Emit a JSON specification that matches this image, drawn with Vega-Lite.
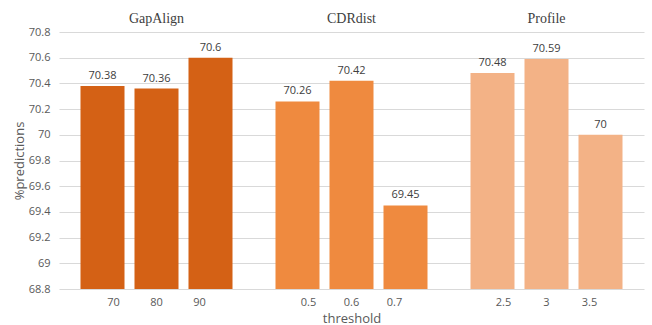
{
  "$schema": "https://vega.github.io/schema/vega-lite/v6.json",
  "width": 585,
  "height": 257,
  "padding": {"left": 13, "top": 11, "right": 8, "bottom": 0},
  "background": "#ffffff",
  "data": {
    "values": [
      {"group": "GapAlign", "slot": 1, "threshold": "70", "value": 70.38},
      {"group": "GapAlign", "slot": 2, "threshold": "80", "value": 70.36},
      {"group": "GapAlign", "slot": 3, "threshold": "90", "value": 70.6},
      {"group": "CDRdist", "slot": 1, "threshold": "0.5", "value": 70.26},
      {"group": "CDRdist", "slot": 2, "threshold": "0.6", "value": 70.42},
      {"group": "CDRdist", "slot": 3, "threshold": "0.7", "value": 69.45},
      {"group": "Profile", "slot": 1, "threshold": "2.5", "value": 70.48},
      {"group": "Profile", "slot": 2, "threshold": "3", "value": 70.59},
      {"group": "Profile", "slot": 3, "threshold": "3.5", "value": 70}
    ]
  },
  "encoding": {
    "x": {
      "field": "group",
      "type": "nominal",
      "sort": ["GapAlign", "CDRdist", "Profile"],
      "scale": {"type": "band", "paddingInner": 0, "paddingOuter": 0}
    },
    "y": {
      "field": "value",
      "type": "quantitative",
      "title": "%predictions",
      "scale": {"domain": [68.8, 70.8], "zero": false, "nice": false},
      "axis": {
        "values": [68.8, 69, 69.2, 69.4, 69.6, 69.8, 70, 70.2, 70.4, 70.6, 70.8],
        "format": "~g",
        "ticks": false,
        "domain": false,
        "grid": true,
        "gridColor": "#D9D9D9",
        "labelFont": "Open Sans",
        "labelFontSize": 11,
        "labelColor": "#595959",
        "labelPadding": 9,
        "titleFont": "Open Sans",
        "titleFontSize": 13,
        "titleFontWeight": "normal",
        "titleColor": "#595959",
        "titlePadding": 2
      }
    }
  },
  "layer": [
    {
      "mark": {"type": "bar"},
      "encoding": {
        "x": {
          "field": "group",
          "type": "nominal",
          "sort": ["GapAlign", "CDRdist", "Profile"],
          "title": null,
          "axis": {
            "orient": "top",
            "ticks": false,
            "domain": false,
            "labelAngle": 0,
            "labelFont": "Liberation Serif",
            "labelFontSize": 14,
            "labelColor": "#404040",
            "labelPadding": 7
          }
        },
        "xOffset": {
          "field": "slot",
          "type": "ordinal",
          "scale": {"type": "band", "paddingInner": 0.185, "paddingOuter": 0.398}
        },
        "y2": {"datum": 68.8},
        "color": {
          "field": "group",
          "type": "nominal",
          "scale": {
            "domain": ["GapAlign", "CDRdist", "Profile"],
            "range": ["#D46115", "#EF8A3F", "#F3B286"]
          },
          "legend": null
        }
      }
    },
    {
      "mark": {
        "type": "text",
        "baseline": "bottom",
        "dy": -5,
        "font": "Open Sans",
        "fontSize": 11,
        "color": "#404040"
      },
      "encoding": {
        "x": {
          "field": "group",
          "type": "nominal",
          "sort": ["GapAlign", "CDRdist", "Profile"],
          "axis": null
        },
        "xOffset": {
          "field": "slot",
          "type": "ordinal",
          "scale": {"type": "band", "paddingInner": 0.185, "paddingOuter": 0.398}
        },
        "text": {"field": "value", "type": "quantitative", "format": "~g"}
      }
    },
    {
      "mark": {
        "type": "text",
        "baseline": "top",
        "dy": 8,
        "font": "Open Sans",
        "fontSize": 11,
        "color": "#595959"
      },
      "encoding": {
        "x": {
          "field": "group",
          "type": "nominal",
          "sort": ["GapAlign", "CDRdist", "Profile"],
          "title": "threshold",
          "axis": {
            "orient": "bottom",
            "labels": false,
            "ticks": false,
            "domain": false,
            "titleFont": "Open Sans",
            "titleFontSize": 13,
            "titleFontWeight": "normal",
            "titleColor": "#595959",
            "titlePadding": 23
          }
        },
        "xOffset": {
          "field": "slot",
          "type": "ordinal",
          "scale": {"type": "band", "paddingInner": 0, "paddingOuter": 0.767}
        },
        "y": {"datum": 68.8},
        "text": {"field": "threshold", "type": "nominal"}
      }
    }
  ],
  "resolve": {"scale": {"xOffset": "independent"}, "axis": {"x": "independent"}},
  "config": {
    "view": {"stroke": null}
  }
}
